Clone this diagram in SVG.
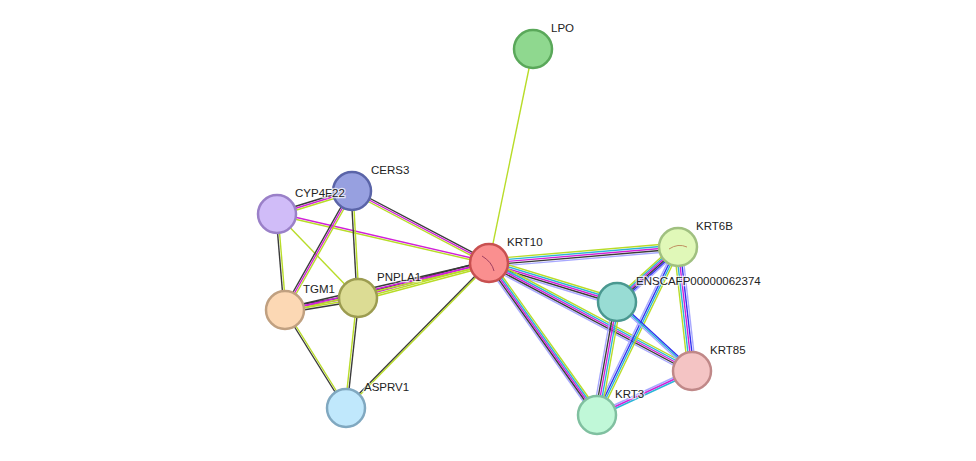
<svg xmlns="http://www.w3.org/2000/svg" xmlns:xlink="http://www.w3.org/1999/xlink" width="976" height="461" viewBox="0 0 976 461">
<style>
use{fill:none;stroke-width:1.4}
.k{stroke:#3a3a3a}.m{stroke:#d020d8}.y{stroke:#b8dc28}.c{stroke:#2ab4d8}.b{stroke:#3030f0}.p{stroke:#a8a8ff}
.n circle{stroke-width:2.5}
text{font-family:"Liberation Sans",Arial,sans-serif;font-size:11.5px;fill:#222;paint-order:stroke;stroke:#fff;stroke-width:2.5px;stroke-opacity:0.7}
</style>
<defs>
<line id="e1" x1="533" y1="49" x2="489" y2="263"/>
<line id="e2" x1="277" y1="214" x2="352" y2="191"/>
<line id="e3" x1="277" y1="214" x2="489" y2="263"/>
<line id="e4" x1="352" y1="191" x2="489" y2="263"/>
<line id="e5" x1="277" y1="214" x2="285" y2="310"/>
<line id="e6" x1="277" y1="214" x2="358" y2="298"/>
<line id="e7" x1="352" y1="191" x2="285" y2="310"/>
<line id="e8" x1="352" y1="191" x2="358" y2="298"/>
<line id="e9" x1="285" y1="310" x2="358" y2="298"/>
<line id="e10" x1="358" y1="298" x2="489" y2="263"/>
<line id="e11" x1="285" y1="310" x2="489" y2="263"/>
<line id="e12" x1="285" y1="310" x2="346" y2="408"/>
<line id="e13" x1="358" y1="298" x2="346" y2="408"/>
<line id="e14" x1="346" y1="408" x2="489" y2="263"/>
<line id="e15" x1="489" y1="263" x2="678" y2="247"/>
<line id="e16" x1="489" y1="263" x2="617" y2="302"/>
<line id="e17" x1="489" y1="263" x2="692" y2="371"/>
<line id="e18" x1="489" y1="263" x2="597" y2="415"/>
<line id="e19" x1="678" y1="247" x2="617" y2="302"/>
<line id="e20" x1="678" y1="247" x2="692" y2="371"/>
<line id="e21" x1="678" y1="247" x2="597" y2="415"/>
<line id="e22" x1="617" y1="302" x2="692" y2="371"/>
<line id="e23" x1="617" y1="302" x2="597" y2="415"/>
<line id="e24" x1="692" y1="371" x2="597" y2="415"/>
</defs>
<rect width="976" height="461" fill="#fff"/>
<g id="edges">
<use href="#e1" class="y"/>
<use href="#e2" class="k" y="-2"/><use href="#e2" class="m"/><use href="#e2" class="y" y="2"/>
<use href="#e3" class="m" y="-1"/><use href="#e3" class="y" y="1"/>
<use href="#e4" class="k" y="-2"/><use href="#e4" class="m"/><use href="#e4" class="y" y="2"/>
<use href="#e5" class="k" x="-1"/><use href="#e5" class="y" x="1"/>
<use href="#e6" class="y"/>
<use href="#e7" class="k" x="-2"/><use href="#e7" class="m"/><use href="#e7" class="y" x="2"/>
<use href="#e8" class="k" x="-1"/><use href="#e8" class="y" x="1"/>
<use href="#e9" class="k" y="-3"/><use href="#e9" class="m" y="-1"/><use href="#e9" class="y" y="1"/><use href="#e9" class="k" y="3"/>
<use href="#e10" class="k" y="-3"/><use href="#e10" class="m" y="-1"/><use href="#e10" class="y" y="1"/><use href="#e10" class="y" y="3"/>
<use href="#e11" class="k" y="-2"/><use href="#e11" class="m"/><use href="#e11" class="y" y="2"/>
<use href="#e12" class="k" x="-1"/><use href="#e12" class="y" x="1"/>
<use href="#e13" class="k" x="1"/><use href="#e13" class="y" x="-1"/>
<use href="#e14" class="k" x="-1"/><use href="#e14" class="y" x="1"/>
<use href="#e15" class="p" y="4"/><use href="#e15" class="k" y="2"/><use href="#e15" class="m"/><use href="#e15" class="c" y="-2"/><use href="#e15" class="y" y="-4"/>
<use href="#e16" class="p" y="4"/><use href="#e16" class="k" y="2"/><use href="#e16" class="m"/><use href="#e16" class="c" y="-2"/><use href="#e16" class="y" y="-4"/>
<use href="#e17" class="p" y="4"/><use href="#e17" class="k" y="2"/><use href="#e17" class="m"/><use href="#e17" class="c" y="-2"/><use href="#e17" class="y" y="-4"/>
<use href="#e18" class="p" x="-4"/><use href="#e18" class="k" x="-2"/><use href="#e18" class="m"/><use href="#e18" class="c" x="2"/><use href="#e18" class="y" x="4"/>
<use href="#e19" class="p" y="5"/><use href="#e19" class="b" y="3"/><use href="#e19" class="k" y="1"/><use href="#e19" class="m" y="-1"/><use href="#e19" class="c" y="-3"/><use href="#e19" class="y" y="-5"/>
<use href="#e20" class="p" x="4"/><use href="#e20" class="b" x="2"/><use href="#e20" class="m"/><use href="#e20" class="c" x="-2"/><use href="#e20" class="y" x="-4"/>
<use href="#e21" class="p" x="-3"/><use href="#e21" class="b" x="-1"/><use href="#e21" class="c" x="1"/><use href="#e21" class="y" x="3"/>
<use href="#e22" class="b" y="-2"/><use href="#e22" class="c"/><use href="#e22" class="p" y="2"/>
<use href="#e23" class="p" x="-4"/><use href="#e23" class="k" x="-2"/><use href="#e23" class="m"/><use href="#e23" class="c" x="2"/><use href="#e23" class="y" x="4"/>
<use href="#e24" class="p" y="-2"/><use href="#e24" class="m"/><use href="#e24" class="c" y="2"/>
</g>
<g id="LPO" class="n"><circle cx="533" cy="49" r="19" fill="#8fd88f" stroke="#5aa85a"/><text x="551" y="32">LPO</text></g>
<g id="CERS3" class="n"><circle cx="352" cy="191" r="19" fill="#97a0e0" stroke="#5a64a8"/><text x="371" y="174">CERS3</text></g>
<g id="CYP4F22" class="n"><circle cx="277" cy="214" r="19" fill="#d0bcf8" stroke="#9a80c8"/><text x="295" y="197">CYP4F22</text></g>
<g id="KRT10" class="n"><circle cx="489" cy="263" r="19" fill="#fa8f8f" stroke="#c85050"/><path d="M482 256 Q492 262 494 271" fill="none" stroke="#a04060" stroke-width="1"/><text x="507" y="246">KRT10</text></g>
<g id="KRT6B" class="n"><circle cx="678" cy="247" r="19" fill="#e0f8b8" stroke="#a0c080"/><path d="M669 249 Q678 243 687 247" fill="none" stroke="#c09060" stroke-width="1"/><text x="696" y="230">KRT6B</text></g>
<g id="ENSCAFP00000062374" class="n"><circle cx="617" cy="302" r="19" fill="#98dcd4" stroke="#4a9890"/><text x="636" y="285">ENSCAFP00000062374</text></g>
<g id="TGM1" class="n"><circle cx="285" cy="310" r="19" fill="#fcd8b4" stroke="#c0a080"/><text x="303" y="293">TGM1</text></g>
<g id="PNPLA1" class="n"><circle cx="358" cy="298" r="19" fill="#dcdc94" stroke="#9c9c50"/><text x="377" y="281">PNPLA1</text></g>
<g id="KRT85" class="n"><circle cx="692" cy="371" r="19" fill="#f4c4c4" stroke="#c08888"/><text x="710" y="354">KRT85</text></g>
<g id="ASPRV1" class="n"><circle cx="346" cy="408" r="19" fill="#c0e8fc" stroke="#80a8c0"/><text x="364" y="391">ASPRV1</text></g>
<g id="KRT3" class="n"><circle cx="597" cy="415" r="19" fill="#c0f8d8" stroke="#80c0a0"/><text x="615" y="398">KRT3</text></g>
</svg>
